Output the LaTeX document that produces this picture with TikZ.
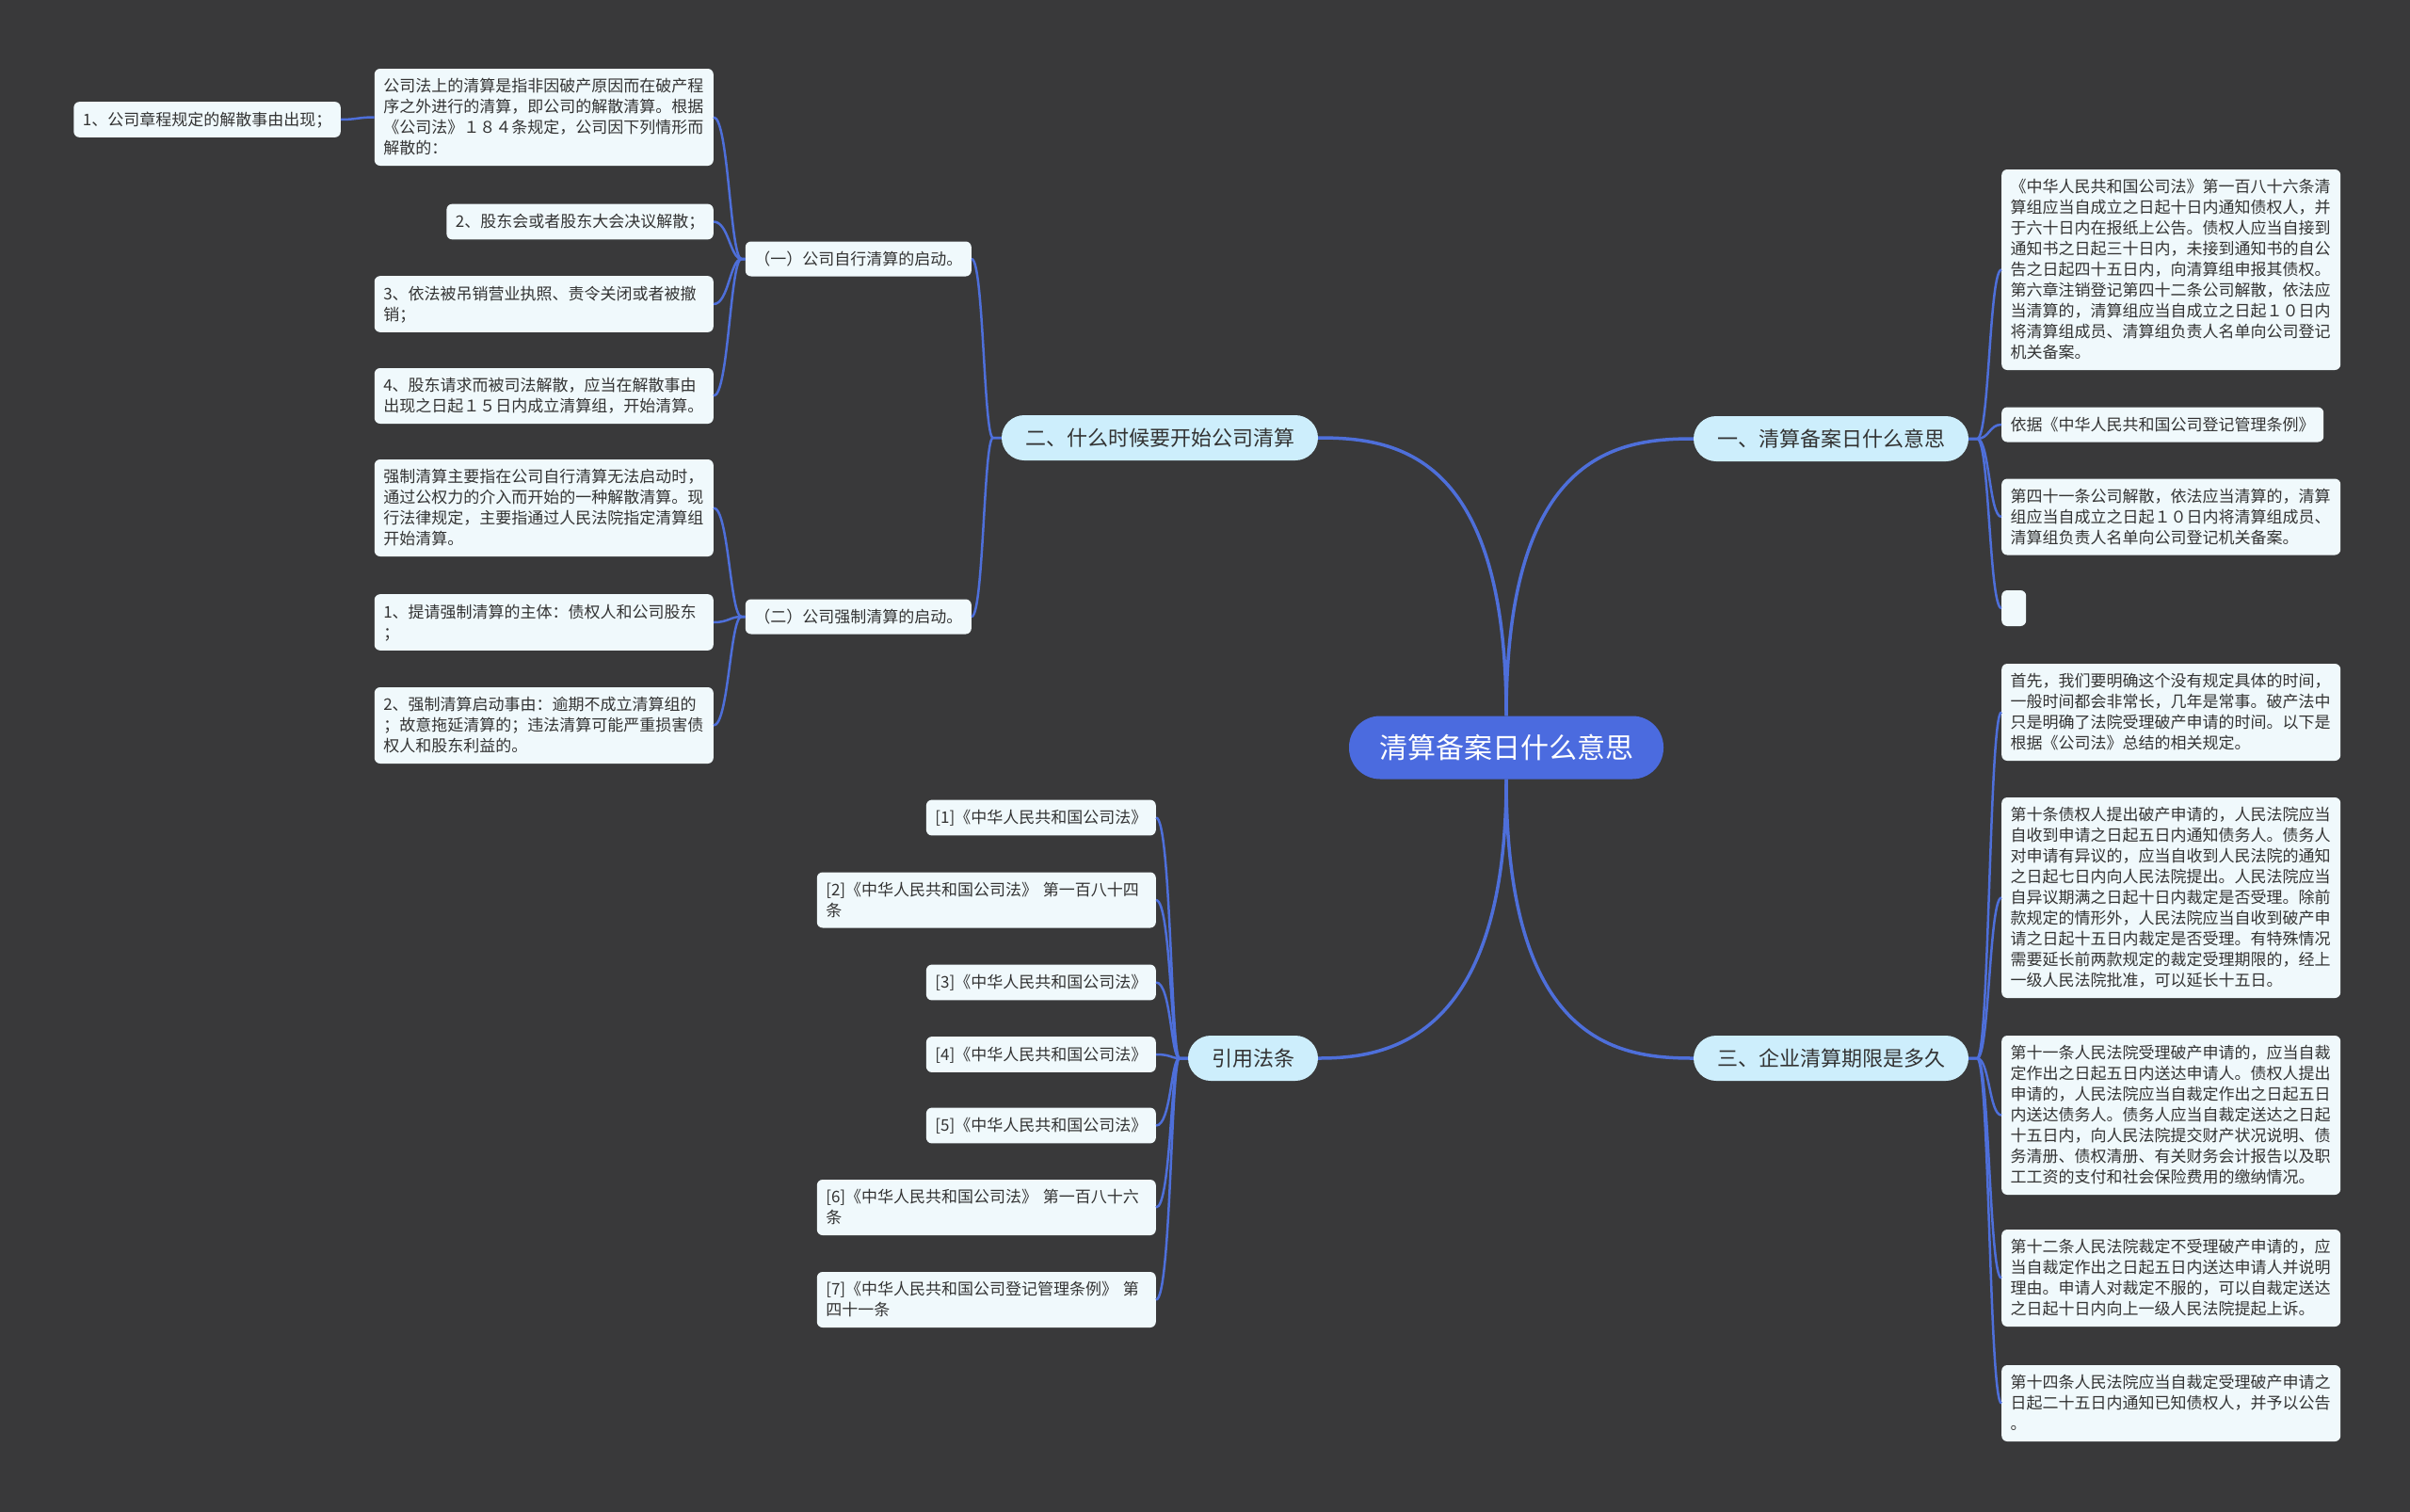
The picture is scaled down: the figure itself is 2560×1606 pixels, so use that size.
\documentclass[tikz,border=0pt]{standalone}
\usepackage{fontspec}
\setmainfont{Noto Sans CJK SC}
\usetikzlibrary{calc}
\definecolor{canvas}{HTML}{39393A}
\definecolor{rootblue}{HTML}{4B6BDF}
\definecolor{topicblue}{HTML}{CDEEFC}
\definecolor{leafwhite}{HTML}{F0F9FC}
\definecolor{linkblue}{HTML}{4E6FDA}
\definecolor{textgray}{HTML}{333333}
\newcommand{\emstrut}{\rule[-0.12em]{0pt}{1em}}

\begin{document}
\begin{tikzpicture}[x=1pt,y=-1pt,
 root/.style={rounded corners=33pt,fill=rootblue,text=white,inner xsep=32pt,inner ysep=18.5pt,font=\fontsize{30}{36}\selectfont,execute at begin node=\emstrut,execute at end node=\emstrut},
 topic/.style={rounded corners=24pt,fill=topicblue,text=textgray,inner xsep=25pt,inner ysep=13pt,font=\fontsize{22}{28}\selectfont,execute at begin node=\emstrut,execute at end node=\emstrut},
 leaf/.style={rounded corners=6pt,fill=leafwhite,text=textgray,align=left,inner xsep=9.5pt,inner ysep=10pt,font=\fontsize{17}{22}\selectfont,execute at begin node=\emstrut,execute at end node=\emstrut},
 wide/.style={leaf,text width=341pt},
 trunk/.style={draw=linkblue,line width=3.5pt},
 link/.style={draw=linkblue,line width=2.5pt}]
\fill[canvas] (0,0) rectangle (2560,1606);
\useasboundingbox (0,0) rectangle (2560,1606);

\node[root] (root) at (1600,794) {清算备案日什么意思};
\node[topic] (t1) at (1945,466) {一、清算备案日什么意思};
\node[topic] (t2) at (1232,465) {二、什么时候要开始公司清算};
\node[topic] (t3) at (1945,1124) {三、企业清算期限是多久};
\node[topic] (t4) at (1331,1124) {引用法条};

\node[wide,anchor=west] (a1) at (2126,286.5) {《中华人民共和国公司法》第一百八十六条清\\算组应当自成立之日起十日内通知债权人，并\\于六十日内在报纸上公告。债权人应当自接到\\通知书之日起三十日内，未接到通知书的自公\\告之日起四十五日内，向清算组申报其债权。\\第六章注销登记第四十二条公司解散，依法应\\当清算的，清算组应当自成立之日起１０日内\\将清算组成员、清算组负责人名单向公司登记\\机关备案。};
\node[leaf,anchor=west] (a2) at (2126,451) {依据《中华人民共和国公司登记管理条例》};
\node[wide,anchor=west] (a3) at (2126,549) {第四十一条公司解散，依法应当清算的，清算\\组应当自成立之日起１０日内将清算组成员、\\清算组负责人名单向公司登记机关备案。};
\node[leaf,anchor=west,minimum width=26pt,minimum height=38pt] (a4) at (2126,646) {};

\node[wide,anchor=west] (b1) at (2126,756.5) {首先，我们要明确这个没有规定具体的时间，\\一般时间都会非常长，几年是常事。破产法中\\只是明确了法院受理破产申请的时间。以下是\\根据《公司法》总结的相关规定。};
\node[wide,anchor=west] (b2) at (2126,953.5) {第十条债权人提出破产申请的，人民法院应当\\自收到申请之日起五日内通知债务人。债务人\\对申请有异议的，应当自收到人民法院的通知\\之日起七日内向人民法院提出。人民法院应当\\自异议期满之日起十日内裁定是否受理。除前\\款规定的情形外，人民法院应当自收到破产申\\请之日起十五日内裁定是否受理。有特殊情况\\需要延长前两款规定的裁定受理期限的，经上\\一级人民法院批准，可以延长十五日。};
\node[wide,anchor=west] (b3) at (2126,1184.5) {第十一条人民法院受理破产申请的，应当自裁\\定作出之日起五日内送达申请人。债权人提出\\申请的，人民法院应当自裁定作出之日起五日\\内送达债务人。债务人应当自裁定送达之日起\\十五日内，向人民法院提交财产状况说明、债\\务清册、债权清册、有关财务会计报告以及职\\工工资的支付和社会保险费用的缴纳情况。};
\node[wide,anchor=west] (b4) at (2126,1357.5) {第十二条人民法院裁定不受理破产申请的，应\\当自裁定作出之日起五日内送达申请人并说明\\理由。申请人对裁定不服的，可以自裁定送达\\之日起十日内向上一级人民法院提起上诉。};
\node[wide,anchor=west] (b5) at (2126,1490.5) {第十四条人民法院应当自裁定受理破产申请之\\日起二十五日内通知已知债权人，并予以公告\\。};

\node[leaf,anchor=east] (s1) at (1032,275) {（一）公司自行清算的启动。};
\node[leaf,anchor=east] (s2) at (1032,655) {（二）公司强制清算的启动。};

\node[wide,anchor=east] (p1) at (758,124.5) {公司法上的清算是指非因破产原因而在破产程\\序之外进行的清算，即公司的解散清算。根据\\《公司法》１８４条规定，公司因下列情形而\\解散的：};
\node[leaf,anchor=east] (p0) at (362,127) {1、公司章程规定的解散事由出现；};
\node[leaf,anchor=east] (p2) at (758,235.5) {2、股东会或者股东大会决议解散；};
\node[wide,anchor=east] (p3) at (758,323) {3、依法被吊销营业执照、责令关闭或者被撤\\销；};
\node[wide,anchor=east] (p4) at (758,420.5) {4、股东请求而被司法解散，应当在解散事由\\出现之日起１５日内成立清算组，开始清算。};

\node[wide,anchor=east] (q1) at (758,539.5) {强制清算主要指在公司自行清算无法启动时，\\通过公权力的介入而开始的一种解散清算。现\\行法律规定，主要指通过人民法院指定清算组\\开始清算。};
\node[wide,anchor=east] (q2) at (758,661) {1、提请强制清算的主体：债权人和公司股东\\；};
\node[wide,anchor=east] (q3) at (758,770.5) {2、强制清算启动事由：逾期不成立清算组的\\；故意拖延清算的；违法清算可能严重损害债\\权人和股东利益的。};

\node[leaf,anchor=east] (r1) at (1228,868.5) {[1]《中华人民共和国公司法》};
\node[wide,anchor=east] (r2) at (1228,956) {[2]《中华人民共和国公司法》 第一百八十四\\条};
\node[leaf,anchor=east] (r3) at (1228,1043.5) {[3]《中华人民共和国公司法》};
\node[leaf,anchor=east] (r4) at (1228,1120) {[4]《中华人民共和国公司法》};
\node[leaf,anchor=east] (r5) at (1228,1195.5) {[5]《中华人民共和国公司法》};
\node[wide,anchor=east] (r6) at (1228,1282.5) {[6]《中华人民共和国公司法》 第一百八十六\\条};
\node[wide,anchor=east] (r7) at (1228,1380.5) {[7]《中华人民共和国公司登记管理条例》 第\\四十一条};

\draw[trunk] (root.north) .. controls +(0,-281) and +(-79,0) .. (t1.west);
\draw[trunk] (root.north) .. controls +(0,-281) and +(81,0) .. (t2.east);
\draw[trunk] (root.south) .. controls +(0,282) and +(-79,0) .. (t3.west);
\draw[trunk] (root.south) .. controls +(0,282) and +(69,0) .. (t4.east);

\draw[link] (t1.east) -- ++(9,0) .. controls +(13,0) and +(-13,0) .. (a1.west);
\draw[link] (t1.east) -- ++(9,0) .. controls +(13,0) and +(-13,0) .. (a2.west);
\draw[link] (t1.east) -- ++(9,0) .. controls +(13,0) and +(-13,0) .. (a3.west);
\draw[link] (t1.east) -- ++(9,0) .. controls +(13,0) and +(-13,0) .. (a4.west);

\draw[link] (t3.east) -- ++(9,0) .. controls +(13,0) and +(-13,0) .. (b1.west);
\draw[link] (t3.east) -- ++(9,0) .. controls +(13,0) and +(-13,0) .. (b2.west);
\draw[link] (t3.east) -- ++(9,0) .. controls +(13,0) and +(-13,0) .. (b3.west);
\draw[link] (t3.east) -- ++(9,0) .. controls +(13,0) and +(-13,0) .. (b4.west);
\draw[link] (t3.east) -- ++(9,0) .. controls +(13,0) and +(-13,0) .. (b5.west);

\draw[link] (t2.west) -- ++(-9,0) .. controls +(-10,0) and +(13,0) .. (s1.east);
\draw[link] (t2.west) -- ++(-9,0) .. controls +(-10,0) and +(13,0) .. (s2.east);

\draw[link] (s1.west) -- ++(-4,0) .. controls +(-12,0) and +(16,0) .. (p1.east);
\draw[link] (s1.west) -- ++(-4,0) .. controls +(-12,0) and +(16,0) .. (p2.east);
\draw[link] (s1.west) -- ++(-4,0) .. controls +(-12,0) and +(16,0) .. (p3.east);
\draw[link] (s1.west) -- ++(-4,0) .. controls +(-12,0) and +(16,0) .. (p4.east);
\draw[link] (p1.west) .. controls +(-17,0) and +(17,0) .. (p0.east);

\draw[link] (s2.west) -- ++(-4,0) .. controls +(-12,0) and +(16,0) .. (q1.east);
\draw[link] (s2.west) -- ++(-4,0) .. controls +(-12,0) and +(16,0) .. (q2.east);
\draw[link] (s2.west) -- ++(-4,0) .. controls +(-12,0) and +(16,0) .. (q3.east);

\draw[link] (t4.west) -- ++(-9,0) .. controls +(-9,0) and +(16,0) .. (r1.east);
\draw[link] (t4.west) -- ++(-9,0) .. controls +(-9,0) and +(16,0) .. (r2.east);
\draw[link] (t4.west) -- ++(-9,0) .. controls +(-9,0) and +(16,0) .. (r3.east);
\draw[link] (t4.west) -- ++(-9,0) .. controls +(-9,0) and +(16,0) .. (r4.east);
\draw[link] (t4.west) -- ++(-9,0) .. controls +(-9,0) and +(16,0) .. (r5.east);
\draw[link] (t4.west) -- ++(-9,0) .. controls +(-9,0) and +(16,0) .. (r6.east);
\draw[link] (t4.west) -- ++(-9,0) .. controls +(-9,0) and +(16,0) .. (r7.east);
\end{tikzpicture}
\end{document}
